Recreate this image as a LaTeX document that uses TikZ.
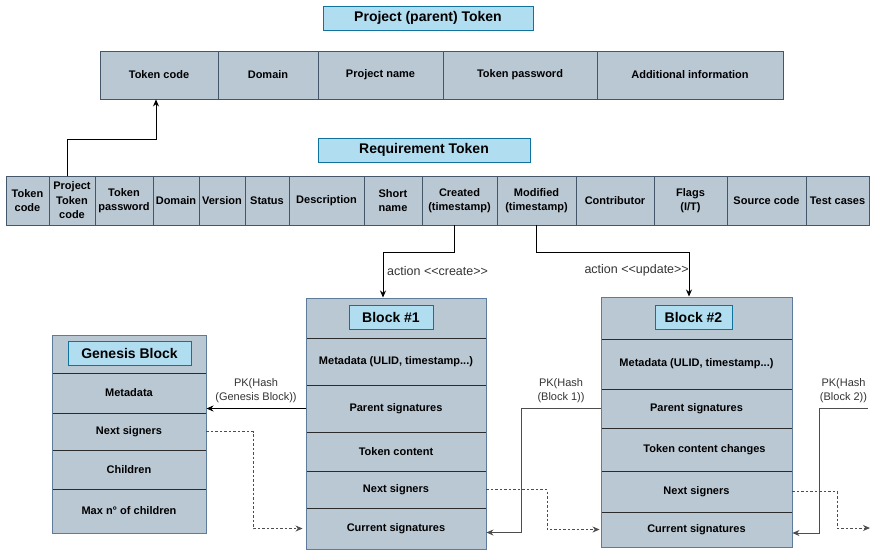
\documentclass[tikz,border=0pt]{standalone}
\usepackage{fontspec}
\setmainfont{Liberation Sans}
\usepackage{tikz}
\usetikzlibrary{arrows.meta}

\definecolor{cellgrey}{HTML}{BAC8D3}
\definecolor{cellline}{HTML}{44576A}
\definecolor{rowline}{HTML}{2B2B2B}
\definecolor{frameline}{HTML}{5D7B9A}
\definecolor{titleblue}{HTML}{B1DDF0}
\definecolor{titleline}{HTML}{10739E}
\definecolor{linkgrey}{HTML}{4D4D4D}
\definecolor{lblgrey}{HTML}{333333}

\tikzset{
  tcell/.style={draw=cellline, fill=cellgrey, line width=0.9pt, inner sep=0pt, align=center,
    font=\bfseries\fontsize{11}{14.5}\selectfont},
  brow/.style={tcell, draw=rowline},
  blockframe/.style={draw=frameline, line width=1pt, inner sep=0pt},
  tokentitle/.style={draw=titleline, fill=titleblue, line width=1pt, minimum height=24pt,
    inner sep=0pt, font=\bfseries\fontsize{14}{16}\selectfont},
  link/.style={draw=black, line width=0.8pt, -{Stealth[length=7pt,width=6pt]}},
  hashlink/.style={link, draw=linkgrey},
  signlink/.style={link, draw=linkgrey, dash pattern=on 2.5pt off 2pt},
  lbl/.style={text=lblgrey, inner sep=2pt, align=center, font=\fontsize{11}{14}\selectfont},
  actlbl/.style={lbl, font=\fontsize{12.5}{14}\selectfont}
}

\begin{document}
\begin{tikzpicture}[x=1pt,y=-1pt]
\useasboundingbox (0,0) rectangle (873,550);

% project token
\node[tokentitle, minimum width=210pt] (projtitle) at (428,18) {Project (parent) Token};
\node[tcell, minimum width=118pt, minimum height=48pt] (pcode) at (159,75) {Token code};
\node[tcell, minimum width=100pt, minimum height=48pt] (pdomain) at (268,75) {Domain};
\node[tcell, minimum width=125pt, minimum height=48pt] (pname) at (380.5,75) {Project name};
\node[tcell, minimum width=154pt, minimum height=48pt] (ppass) at (520,75) {Token password};
\node[tcell, minimum width=186pt, minimum height=48pt] (pinfo) at (690,75) {Additional information};

% requirement token
\node[tokentitle, minimum width=212pt] (reqtitle) at (424,150) {Requirement Token};
\node[tcell, minimum width=43pt, minimum height=49pt] (rcode) at (27.5,200.5) {Token\\code};
\node[tcell, minimum width=46pt, minimum height=49pt] (rpcode) at (72,200.5) {Project\\Token\\code};
\node[tcell, minimum width=58pt, minimum height=49pt] (rpass) at (124,200.5) {Token\\password};
\node[tcell, minimum width=46pt, minimum height=49pt] (rdomain) at (176,200.5) {Domain};
\node[tcell, minimum width=46pt, minimum height=49pt] (rversion) at (222,200.5) {Version};
\node[tcell, minimum width=44pt, minimum height=49pt] (rstatus) at (267,200.5) {Status};
\node[tcell, minimum width=75pt, minimum height=49pt] (rdesc) at (326.5,200.5) {Description};
\node[tcell, minimum width=58pt, minimum height=49pt] (rshort) at (393,200.5) {Short\\name};
\node[tcell, minimum width=75pt, minimum height=49pt] (rcreated) at (459.5,200.5) {Created\\(timestamp)};
\node[tcell, minimum width=79pt, minimum height=49pt] (rmodified) at (536.5,200.5) {Modified\\(timestamp)};
\node[tcell, minimum width=78pt, minimum height=49pt] (rcontrib) at (615,200.5) {Contributor};
\node[tcell, minimum width=73pt, minimum height=49pt] (rflags) at (690.5,200.5) {Flags\\(I/T)};
\node[tcell, minimum width=79pt, minimum height=49pt] (rsource) at (766.5,200.5) {Source code};
\node[tcell, minimum width=63pt, minimum height=49pt] (rtests) at (837.5,200.5) {Test cases};

% genesis block
\node[brow, minimum width=154pt, minimum height=38pt] (genhead) at (129,354) {};
\node[brow, minimum width=154pt, minimum height=40pt] (genmeta) at (129,393) {Metadata};
\node[brow, minimum width=154pt, minimum height=37pt] (gennext) at (129,431.5) {Next signers};
\node[brow, minimum width=154pt, minimum height=39pt] (genchild) at (129,469.5) {Children};
\node[brow, minimum width=154pt, minimum height=44pt] (genmax) at (129,511) {Max n° of children};
\node[blockframe, minimum width=154pt, minimum height=198pt] (genesis) at (129,434) {};
\node[tokentitle, minimum width=123pt] (gentitle) at (129.5,353) {Genesis Block};

% block 1
\node[brow, minimum width=180pt, minimum height=40pt] (bonehead) at (396,318) {};
\node[brow, minimum width=180pt, minimum height=47pt] (bonemeta) at (396,361.5) {Metadata (ULID, timestamp...)};
\node[brow, minimum width=180pt, minimum height=47pt] (bonepar) at (396,408.5) {Parent signatures};
\node[brow, minimum width=180pt, minimum height=39pt] (bonetok) at (396,451.5) {Token content};
\node[brow, minimum width=180pt, minimum height=37pt] (bonenext) at (396,489.5) {Next signers};
\node[brow, minimum width=180pt, minimum height=41pt] (bonecur) at (396,528.5) {Current signatures};
\node[blockframe, minimum width=180pt, minimum height=251pt] (blockone) at (396,423.5) {};
\node[tokentitle, minimum width=84pt] (bonetitle) at (391,317) {Block \#1};

% block 2
\node[brow, minimum width=191pt, minimum height=42pt] (btwohead) at (696.5,318) {};
\node[brow, minimum width=191pt, minimum height=50pt] (btwometa) at (696.5,364) {Metadata (ULID, timestamp...)};
\node[brow, minimum width=191pt, minimum height=39pt] (btwopar) at (696.5,408.5) {Parent signatures};
\node[brow, minimum width=191pt, minimum height=43pt] (btwotok) at (696.5,449.5) {\hspace{16pt}Token content changes};
\node[brow, minimum width=191pt, minimum height=41pt] (btwonext) at (696.5,491.5) {Next signers};
\node[brow, minimum width=191pt, minimum height=35pt] (btwocur) at (696.5,529.5) {Current signatures};
\node[blockframe, minimum width=191pt, minimum height=250pt] (blocktwo) at (696.5,422) {};
\node[tokentitle, minimum width=77pt] (btwotitle) at (693.5,317) {Block \#2};

% links between tokens
\draw[link] ([xshift=-5pt]rpcode.north) -- ++(0,-36) -| ([xshift=-3pt]pcode.south);
\draw[link] ([xshift=-5pt]rcreated.south) -- ++(0,27) -| ([xshift=-13pt]blockone.north);
\draw[link] (rmodified.south) -- ++(0,27) -| ([xshift=-7.5pt]blocktwo.north);
\node[actlbl, anchor=west] (actcreate) at (385,271) {action <\kern0pt<create>\kern0pt>};
\node[actlbl, anchor=east] (actupdate) at (691,270) {action <\kern0pt<update>\kern0pt>};

% hash links
\draw[link] (bonepar.west) -- (bonepar.west -| genesis.east)
  node[lbl, midway, above=3pt] {PK(Hash\\(Genesis Block))};
\draw[hashlink] (btwopar.west) -- ++(-79,0) node[lbl, midway, above=3pt] {PK(Hash\\(Block 1))}
  |- ([yshift=-4pt]bonecur.east);
\coordinate (hashin) at (868,408);
\draw[hashlink] (hashin) -- ++(-49,0) node[lbl, midway, above=3pt] {PK(Hash\\(Block 2))}
  |- ([yshift=-3.5pt]btwocur.east);

% signer links
\draw[signlink] (gennext.east) -- ++(47,0) |- ([xshift=-3pt]bonecur.west);
\draw[signlink] (bonenext.east) -- ++(61,0) |- ([xshift=-1pt]btwocur.west);
\coordinate (nextout) at (870,528);
\draw[signlink] (btwonext.east) -- ++(45,0) |- (nextout);
\end{tikzpicture}
\end{document}
